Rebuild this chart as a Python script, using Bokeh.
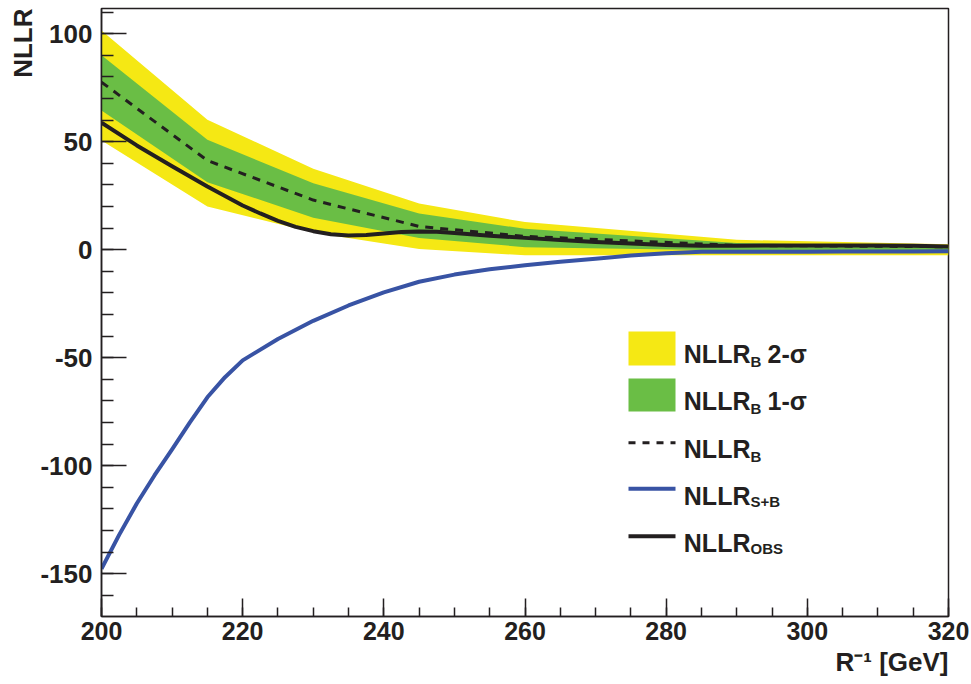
from bokeh.plotting import figure
from bokeh.models import Range1d, FixedTicker, Label, BoxAnnotation, Title
from bokeh.embed import file_html
from bokeh.resources import INLINE

# ---------------- data ----------------
x_band = [200, 215, 230, 245, 260, 290, 320]
two_sigma_hi = [101.5, 60.2, 37.5, 21.4, 12.8, 4.6, 2.5]
one_sigma_hi = [90.0, 50.9, 30.8, 16.8, 9.7, 3.1, 1.5]
one_sigma_lo = [64.5, 31.3, 14.8, 5.5, 1.2, -0.3, -0.8]
two_sigma_lo = [50.6, 20.0, 8.0, 0.3, -2.6, -2.6, -2.6]
nllr_b = [77.6, 41.3, 23.0, 10.8, 6.2, 2.0, 1.4]

x_obs = [200, 205, 210, 215, 220, 222.5, 225, 227.5, 230, 232.5, 235, 237.5, 240,
         242.5, 245, 247.5, 250, 255, 260, 265, 270, 275, 280, 285, 290, 295, 300,
         305, 310, 315, 320]
nllr_obs = [58.8, 48.3, 38.7, 29.3, 20.5, 16.8, 13.4, 10.6, 8.6, 7.2, 6.6, 6.8, 7.5,
            8.2, 8.5, 8.3, 7.8, 6.5, 5.5, 4.5, 3.6, 2.9, 2.2, 1.8, 1.8, 2.0, 2.0,
            2.0, 2.0, 1.8, 1.5]

x_sb = [200, 202.5, 205, 207.5, 210, 212.5, 215, 217.5, 220, 225, 230, 235, 240, 245,
        250, 255, 260, 265, 270, 275, 280, 285, 290, 295, 300, 305, 310, 315, 320]
nllr_sb = [-147.7, -132.0, -117.5, -104.5, -92.4, -80.0, -68.3, -59.0, -51.2, -41.3,
           -32.9, -25.8, -19.7, -14.8, -11.5, -9.0, -7.2, -5.6, -4.2, -2.7, -1.6,
           -0.9, -0.9, -0.9, -0.9, -0.8, -0.8, -0.8, -0.7]

x_major = [200, 220, 240, 260, 280, 300, 320]
x_minor = list(range(200, 321, 5))
y_major = [-150, -100, -50, 0, 50, 100]
y_minor = list(range(-160, 111, 10))

# ---------------- styling ----------------
YELLOW = "#F5E814"
GREEN = "#6ABE45"
BLUE = "#3853A4"
BLACK = "#231F20"
FONT = "Liberation Sans"

W, H = 971, 684
X0, X1 = 200, 320
Y0, Y1 = -169.8, 111.7
FL, FR, FT, FB = 101, 948, 8, 616   # frame edges in picture pixels

p = figure(width=W, height=H, x_range=Range1d(X0, X1), y_range=Range1d(Y0, Y1),
           output_backend="svg", toolbar_location=None,
           min_border_left=FL, min_border_right=W - FR, min_border_top=FT,
           min_border_bottom=H - FB)
p.xgrid.visible = False
p.ygrid.visible = False
p.outline_line_color = BLACK
p.outline_line_width = 1.5
p.background_fill_color = "white"
p.border_fill_color = "white"

for ax, maj, mnr, lin, lmin in ((p.xaxis[0], x_major, x_minor, 18, 9),
                                (p.yaxis[0], y_major, y_minor, 25, 12)):
    ax.ticker = FixedTicker(ticks=maj, minor_ticks=mnr)
    ax.major_label_overrides = {v: str(v) for v in maj}
    ax.major_tick_in = lin
    ax.major_tick_out = 0
    ax.minor_tick_in = lmin
    ax.minor_tick_out = 0
    ax.axis_line_color = BLACK
    ax.axis_line_width = 1.5
    ax.major_tick_line_color = BLACK
    ax.major_tick_line_width = 1.5
    ax.minor_tick_line_color = BLACK
    ax.minor_tick_line_width = 1.5
    ax.major_label_text_font = FONT
    ax.major_label_text_font_style = "bold"
    ax.major_label_text_color = BLACK
    ax.axis_label = None
p.xaxis.major_label_text_font_size = "25px"
p.yaxis.major_label_text_font_size = "26px"
p.xaxis.major_label_standoff = 5
p.yaxis.major_label_standoff = 9

# axis titles, aligned to the far ends of the axes (ROOT style)
p.add_layout(Title(text="R\u207b\u00b9 [GeV]", align="right", text_font=FONT,
                   text_font_style="bold", text_font_size="26px", text_color=BLACK,
                   standoff=5, offset=0), "below")
p.add_layout(Title(text="NLLR", align="right", text_font=FONT,
                   text_font_style="bold", text_font_size="26px", text_color=BLACK,
                   standoff=0, offset=0), "left")

# ---------------- data glyphs ----------------
p.varea(x=x_band, y1=two_sigma_lo, y2=two_sigma_hi, fill_color=YELLOW)
p.varea(x=x_band, y1=one_sigma_lo, y2=one_sigma_hi, fill_color=GREEN)
p.line(x_sb, nllr_sb, line_color=BLUE, line_width=4, line_join="round")
p.line(x_band, nllr_b, line_color=BLACK, line_width=3, line_dash="8 7")
p.line(x_obs, nllr_obs, line_color=BLACK, line_width=4, line_join="round")

# ---------------- helpers: picture pixel -> data ----------------
def dx(px):
    return X0 + (px - FL) * (X1 - X0) / (FR - FL)
def dy(py):
    return Y1 - (py - FT) * (Y1 - Y0) / (FB - FT)

def txt(text, px, py, size, **kw):
    p.add_layout(Label(x=dx(px), y=dy(py), text=text, text_font=FONT,
                       text_font_style="bold", text_font_size=size,
                       text_color=BLACK, text_baseline="alphabetic", **kw))

# ---------------- legend ----------------
p.add_layout(BoxAnnotation(left=dx(628), right=dx(675), top=dy(331), bottom=dy(365),
                           fill_color=YELLOW, fill_alpha=1, line_alpha=0))
p.add_layout(BoxAnnotation(left=dx(628), right=dx(675), top=dy(378), bottom=dy(411),
                           fill_color=GREEN, fill_alpha=1, line_alpha=0))
p.line([dx(628), dx(675)], [dy(442.3)] * 2, line_color=BLACK, line_width=3, line_dash="7 7")
p.line([dx(628), dx(675)], [dy(488.3)] * 2, line_color=BLUE, line_width=4)
p.line([dx(628), dx(675)], [dy(535.7)] * 2, line_color=BLACK, line_width=4)

rows = [("2-σ", 353.3, 360.5, "B"), ("1-σ", 400.7, 408.0, "B"),
        ("", 448.3, 455.7, "B"), ("", 495.7, 501.0, "S+B"), ("", 542.3, 547.5, "OBS")]
for tail, base, sbase, sub in rows:
    txt("NLLR", 683.3, base, "25px")
    txt(sub, 750, sbase, "15px")
    if tail:
        txt(tail, 767, base, "25px")

open("out.html", "w").write(file_html(p, INLINE))
